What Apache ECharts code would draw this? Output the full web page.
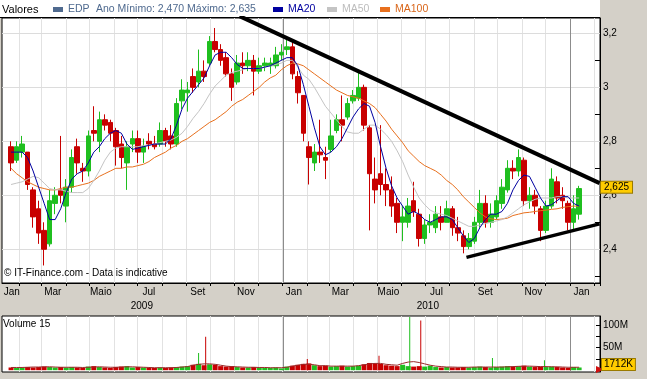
<!DOCTYPE html>
<html>
<head>
<meta charset="utf-8">
<title>EDP</title>
<script src="https://cdn.jsdelivr.net/npm/echarts@6.0.0/dist/echarts.min.js"></script>
<style>
html,body{margin:0;padding:0;background:#D4D0C8;overflow:hidden;}
#chart{width:647px;height:379px;}
</style>
</head>
<body>
<div id="chart"></div>
<script>
// ---------------- data (weekly candles) ----------------
const firstWeekMid = '2009-01-21';   // Wednesday of the first weekly candle
const opens = [2.78,2.73,2.76,2.76,2.62,2.55,2.47,2.42,2.57,2.62,
  2.56,2.63,2.78,2.70,2.69,2.84,2.80,2.88,2.87,2.84,
  2.79,2.72,2.79,2.81,2.76,2.80,2.79,2.79,2.84,2.82,
  2.79,2.95,2.98,3.04,3.02,3.06,3.09,3.17,3.14,3.11,
  3.05,3.02,3.09,3.08,3.10,3.06,3.08,3.08,3.08,3.12,
  3.14,3.15,3.04,2.97,2.78,2.72,2.76,2.74,2.77,2.84,
  2.88,2.89,2.95,2.96,3.00,2.85,2.66,2.68,2.64,2.62,
  2.57,2.50,2.50,2.58,2.53,2.44,2.49,2.48,2.52,2.50,
  2.55,2.48,2.45,2.41,2.43,2.50,2.57,2.50,2.52,2.57,
  2.62,2.70,2.69,2.73,2.58,2.60,2.55,2.47,2.56,2.65,
  2.60,2.57,2.50,2.53];
const closes = [2.72,2.78,2.79,2.64,2.52,2.46,2.40,2.58,2.60,2.60,
  2.63,2.74,2.72,2.69,2.82,2.83,2.88,2.86,2.83,2.78,
  2.74,2.78,2.81,2.76,2.78,2.79,2.78,2.84,2.80,2.79,
  2.94,2.99,2.99,3.00,3.06,3.04,3.17,3.14,3.10,3.05,
  3.00,3.09,3.08,3.10,3.06,3.08,3.09,3.09,3.12,3.13,
  3.15,3.05,2.98,2.83,2.74,2.76,2.75,2.73,2.82,2.88,
  2.86,2.94,2.97,3.00,2.86,2.68,2.62,2.64,2.62,2.56,
  2.50,2.52,2.56,2.54,2.44,2.49,2.50,2.53,2.50,2.55,
  2.48,2.46,2.41,2.44,2.50,2.57,2.50,2.53,2.58,2.63,
  2.70,2.69,2.74,2.58,2.60,2.56,2.47,2.56,2.66,2.59,
  2.58,2.50,2.55,2.625];
const lows = [2.69,2.72,2.74,2.62,2.48,2.42,2.34,2.41,2.53,2.57,
  2.50,2.61,2.68,2.65,2.67,2.80,2.76,2.84,2.80,2.71,
  2.70,2.62,2.76,2.72,2.72,2.77,2.77,2.78,2.78,2.77,
  2.78,2.92,2.91,2.98,3.00,3.02,3.08,3.13,3.08,3.04,
  2.95,3.01,3.05,3.06,2.97,3.05,3.06,3.05,3.07,3.10,
  3.12,3.03,2.94,2.80,2.64,2.69,2.72,2.66,2.76,2.83,
  2.80,2.88,2.94,2.95,2.84,2.47,2.57,2.60,2.56,2.52,
  2.46,2.43,2.48,2.52,2.41,2.42,2.46,2.46,2.47,2.50,
  2.45,2.43,2.385,2.40,2.42,2.48,2.48,2.48,2.51,2.55,
  2.61,2.66,2.67,2.56,2.55,2.53,2.43,2.46,2.55,2.57,
  2.55,2.47,2.47,2.51];
const highs = [2.80,2.80,2.82,2.76,2.63,2.58,2.50,2.62,2.63,2.82,
  2.66,2.77,2.81,2.72,2.84,2.93,2.91,2.90,2.88,2.85,
  2.82,2.80,2.84,2.84,2.81,2.83,2.82,2.87,2.85,2.86,
  2.96,3.03,3.02,3.07,3.14,3.10,3.19,3.22,3.16,3.13,
  3.07,3.12,3.13,3.13,3.12,3.11,3.11,3.11,3.15,3.16,
  3.19,3.17,3.06,2.97,2.80,2.79,2.88,2.78,2.88,2.90,
  2.97,2.96,2.99,3.06,3.01,2.86,2.74,2.86,2.70,2.67,
  2.59,2.56,2.59,2.65,2.55,2.51,2.53,2.56,2.56,2.58,
  2.56,2.52,2.47,2.46,2.52,2.62,2.60,2.57,2.60,2.66,
  2.73,2.73,2.77,2.74,2.63,2.62,2.56,2.58,2.70,2.67,
  2.63,2.58,2.60,2.635];
const ma20 = [2.76,2.76,2.76,2.74,2.69,2.63,2.57,2.51,2.51,2.55,
  2.61,2.66,2.68,2.69,2.72,2.76,2.78,2.81,2.83,2.84,
  2.83,2.79,2.77,2.775,2.78,2.785,2.79,2.79,2.79,2.81,
  2.86,2.92,2.96,2.985,3.01,3.035,3.08,3.12,3.13,3.13,
  3.11,3.085,3.07,3.07,3.07,3.07,3.075,3.08,3.09,3.10,
  3.11,3.11,3.08,3.01,2.93,2.85,2.78,2.75,2.76,2.78,
  2.81,2.85,2.89,2.92,2.94,2.93,2.87,2.78,2.70,2.635,
  2.59,2.56,2.53,2.54,2.53,2.51,2.50,2.51,2.52,2.52,
  2.51,2.48,2.45,2.425,2.44,2.48,2.51,2.53,2.53,2.54,
  2.57,2.62,2.655,2.675,2.67,2.63,2.59,2.56,2.565,2.58,
  2.595,2.595,2.57,2.56];
const ma50 = [2.64,2.645,2.65,2.66,2.67,2.665,2.645,2.625,2.62,2.62,
  2.615,2.61,2.61,2.61,2.625,2.655,2.69,2.73,2.76,2.775,
  2.78,2.78,2.78,2.78,2.785,2.785,2.79,2.795,2.80,2.805,
  2.815,2.83,2.855,2.885,2.91,2.94,2.975,3.005,3.025,3.045,
  3.055,3.06,3.065,3.07,3.07,3.07,3.075,3.08,3.085,3.09,
  3.10,3.10,3.075,3.045,3.03,3.00,2.965,2.93,2.905,2.88,
  2.855,2.835,2.83,2.83,2.845,2.86,2.86,2.845,2.825,2.80,
  2.765,2.725,2.675,2.63,2.59,2.565,2.545,2.535,2.53,2.525,
  2.515,2.505,2.495,2.485,2.485,2.49,2.495,2.50,2.505,2.51,
  2.52,2.535,2.55,2.565,2.575,2.585,2.59,2.59,2.59,2.595,
  2.595,2.59,2.59,2.59];
const ma100 = [2.70,2.68,2.665,2.65,2.64,2.63,2.625,2.62,2.62,2.625,
  2.63,2.63,2.635,2.64,2.645,2.655,2.67,2.68,2.69,2.70,
  2.70,2.705,2.705,2.71,2.715,2.725,2.74,2.75,2.76,2.775,
  2.785,2.80,2.81,2.825,2.84,2.855,2.87,2.88,2.895,2.91,
  2.93,2.945,2.955,2.97,2.985,3.00,3.02,3.035,3.045,3.065,
  3.08,3.09,3.087,3.08,3.065,3.05,3.035,3.02,3.005,2.99,
  2.98,2.97,2.965,2.96,2.95,2.94,2.925,2.90,2.875,2.845,
  2.82,2.795,2.765,2.745,2.725,2.71,2.70,2.69,2.675,2.655,
  2.64,2.62,2.595,2.575,2.555,2.535,2.52,2.513,2.51,2.512,
  2.515,2.525,2.53,2.535,2.537,2.54,2.543,2.545,2.548,2.55,
  2.555,2.558,2.56,2.56];
// volume, millions of shares (typical daily level of each week)
const volumes = [6,5,6,7,6,7,8,7,6,7,
  6,7,6,5,8,9,7,6,5,7,
  8,9,6,7,6,5,5,6,5,6,
  7,8,9,12,14,11,13,12,9,8,
  9,7,6,6,7,6,5,5,6,4,
  8,10,12,14,15,11,9,10,8,9,
  10,8,9,10,13,16,15,14,11,10,
  9,12,9,8,9,8,10,7,6,7,
  6,6,7,6,7,8,7,6,7,8,
  9,8,9,10,8,7,8,7,8,7,
  6,5,7,6];
const volumeMA15 = [6,6,6,6.5,7,7,7.5,7.5,7,6.5,
  6.5,6.5,6.5,6,6.5,7,7.5,7,6.5,6.5,
  7,7.5,7.5,7,6.5,6,5.5,5.5,5.5,5.5,
  6,7,8,11,13,14,14,13,11,9,
  8,7.5,7,6.5,6.5,6,6,5.5,5.5,5.5,
  6.5,9,11,13,13,12,10,10,9,9,
  9,9,9,10,12,14,15,15,13,12,
  11,15,18,19,17,14,11,9,8,7,
  7,6.5,6.5,6.5,7,7,7,7,7,7,
  7.5,8,8.5,9,9,8.5,8,8,7.5,7.5,
  7,6.5,6.5,6.5];
const volSpikeDates  = ['2009-09-16','2009-09-25','2010-02-01','2010-05-03','2010-06-11','2010-06-25','2010-09-24','2010-11-29'];
const volSpikeValues = [38, 74, 25, 32, 118, 110, 27, 22];
const upperTrend = [['2009-11-07', 3.264], ['2011-02-07', 2.645]];
const lowerTrend = [['2010-08-22', 2.370], ['2011-02-07', 2.494]];
const priceTicks  = [2.3,2.4,2.5,2.6,2.7,2.8,2.9,3.0,3.1,3.2];
const priceLabels = [2.4,2.6,2.8,3.0,3.2];
const volTicks  = [25e6,50e6,75e6,100e6];
const volLabels = [50e6,100e6];
const monthNames = ['Jan','Fev','Mar','Abr','Maio','Jun','Jul','Ago','Set','Out','Nov','Dez'];
const monthLabelDates = ['2009-01-22','2009-03-15','2009-05-15','2009-07-15','2009-09-15','2009-11-15',
  '2010-01-15','2010-03-15','2010-05-15','2010-07-15','2010-09-15','2010-11-15','2011-01-15'];
const yearLabelDates = ['2009-07-06','2010-07-04'];
const yearStarts = ['2010-01-01','2011-01-01'];
const lastPrice = 2.625;
const lastVolume = 1712000;
const headerInfo = 'Ano Mínimo: 2,470 Máximo: 2,635';

// ---------------- build ----------------
const FONT = '"Liberation Sans", Arial, sans-serif';
const SLATE = '#4F6A8F', GREEN = '#1FBF1F', RED = '#C80000';
const DAY = 86400000;
const iso = t => new Date(t).toISOString().slice(0, 10);
const days = [];
for (let t = Date.UTC(2009, 0, 10); t <= Date.UTC(2011, 1, 7); t += DAY) days.push(iso(t));
const dayIndex = {};
days.forEach((d, i) => { dayIndex[d] = i; });
const t0 = Date.parse(firstWeekMid + 'T00:00:00Z');
const weekIdx = opens.map((_, i) => dayIndex[iso(t0 + i * 7 * DAY)]);
const isUp = i => closes[i] >= opens[i];

const candleData = opens.map((o, i) => [weekIdx[i], o, closes[i], lows[i], highs[i]]);
const lineData = arr => arr.map((v, i) => [weekIdx[i], v]);
const volData = volumes.map((v, i) => ({ value: [weekIdx[i], v * 1e6], itemStyle: { color: isUp(i) ? GREEN : RED } }));
const spikeData = volSpikeDates.map((d, i) => {
  const k = Math.max(0, Math.min(opens.length - 1, Math.round((dayIndex[d] - weekIdx[0]) / 7)));
  return { value: [dayIndex[d], volSpikeValues[i] * 1e6], itemStyle: { color: isUp(k) ? GREEN : RED } };
});
const trend = arr => arr.map(p => [dayIndex[p[0]], p[1]]);

const labelSet = new Set(monthLabelDates);
const yearSet = new Set(yearLabelDates);
const isMonthStart = (i, v) => v.slice(8) === '01';
const priceFmt = v => String(Math.round(v * 10) / 10).replace('.', ',');
const lastPriceText = lastPrice.toFixed(3).replace('.', ',');

const txt = (extra) => Object.assign({ fontFamily: FONT, fontWeight: 'normal', fontSize: 10, color: '#000' }, extra || {});

const option = {
  animation: false,
  backgroundColor: '#D4D0C8',
  graphic: [
    { type: 'rect', silent: true, shape: { x: 0, y: 0, width: 600, height: 18 }, style: { fill: '#fff' } },
    { type: 'line', silent: true, shape: { x1: 0, y1: 17.5, x2: 600, y2: 17.5 }, style: { stroke: '#000', lineWidth: 1 } }
  ],
  title: [
    { text: 'Valores', left: 2, top: 4, padding: 0, textStyle: txt({ fontSize: 11 }) },
    { text: headerInfo, left: 96, top: 4, padding: 0, textStyle: txt({ fontSize: 10.5, color: SLATE }) },
    { text: '© IT-Finance.com - Data is indicative', left: 4, top: 268, padding: 0, textStyle: txt({ fontSize: 10 }) },
    { text: 'Volume 15', left: 3, top: 319, padding: 0, textStyle: txt({ fontSize: 10 }) }
  ],
  legend: [
    { left: 53, top: 4, padding: 0, itemWidth: 10, itemHeight: 5, selectedMode: false,
      data: [{ name: 'EDP', icon: 'rect', itemStyle: { color: SLATE, borderWidth: 0 }, textStyle: { color: SLATE } }],
      textStyle: txt({ fontSize: 10.5 }) },
    { left: 273, top: 4, padding: 0, itemWidth: 10, itemHeight: 5, selectedMode: false,
      data: [{ name: 'MA20', icon: 'rect', itemStyle: { color: '#0000A0' }, textStyle: { color: '#0000A0' } }],
      textStyle: txt({ fontSize: 10.5 }) },
    { left: 327, top: 4, padding: 0, itemWidth: 10, itemHeight: 5, selectedMode: false,
      data: [{ name: 'MA50', icon: 'rect', itemStyle: { color: '#C4C4C4' }, textStyle: { color: '#BDBDBD' } }],
      textStyle: txt({ fontSize: 10.5 }) },
    { left: 380, top: 4, padding: 0, itemWidth: 10, itemHeight: 5, selectedMode: false,
      data: [{ name: 'MA100', icon: 'rect', itemStyle: { color: '#E8701E' }, textStyle: { color: '#D9661A' } }],
      textStyle: txt({ fontSize: 10.5 }) }
  ],
  grid: [
    { left: 2, top: 18, width: 598, height: 265, show: true, backgroundColor: '#fff', borderColor: '#000', borderWidth: 1 },
    { left: 2, top: 316, width: 598, height: 56, show: true, backgroundColor: '#fff', borderColor: '#000', borderWidth: 1 }
  ],
  xAxis: [
    { type: 'category', gridIndex: 0, data: days, boundaryGap: true,
      axisLine: { show: true, lineStyle: { color: '#000' } },
      axisTick: { show: true, interval: isMonthStart, length: 3, lineStyle: { color: '#000' } },
      axisLabel: { show: true, interval: (i, v) => labelSet.has(v), formatter: v => monthNames[+v.slice(5, 7) - 1],
        margin: 4, fontFamily: FONT, fontSize: 10, color: '#000' },
      splitLine: { show: true, interval: isMonthStart, lineStyle: { color: '#E2E2E2', width: 1 } } },
    { type: 'category', gridIndex: 0, data: days, position: 'bottom', offset: 15,
      axisLine: { show: false }, axisTick: { show: false }, splitLine: { show: false },
      axisLabel: { show: true, interval: (i, v) => yearSet.has(v), formatter: v => v.slice(0, 4),
        margin: 3, fontFamily: FONT, fontSize: 10, color: '#000' } },
    { type: 'category', gridIndex: 1, data: days,
      axisLine: { show: false }, axisTick: { show: false }, axisLabel: { show: false },
      splitLine: { show: true, interval: isMonthStart, lineStyle: { color: '#E2E2E2', width: 1 } } },
    { type: 'category', gridIndex: 1, data: days, show: false }
  ],
  yAxis: [
    { type: 'value', gridIndex: 0, position: 'right', min: 2.275, max: 3.257, scale: true,
      axisLine: { show: true, lineStyle: { color: '#000' } },
      axisTick: { show: true, inside: true, length: 5, customValues: priceTicks, lineStyle: { color: '#000' } },
      axisLabel: { show: true, customValues: priceLabels, formatter: priceFmt, margin: 3,
        fontFamily: FONT, fontSize: 10, color: '#000' },
      splitLine: { show: false } },
    { type: 'value', gridIndex: 1, position: 'right', min: -4e6, max: 120e6,
      axisLine: { show: true, lineStyle: { color: '#000' } },
      axisTick: { show: true, inside: true, length: 4, customValues: volTicks, lineStyle: { color: '#000' } },
      axisLabel: { show: true, customValues: volLabels, formatter: v => Math.round(v / 1e6) + 'M', margin: 3,
        fontFamily: FONT, fontSize: 10, color: '#000' },
      splitLine: { show: false } }
  ],
  series: [
    { name: 'gridlines', type: 'line', xAxisIndex: 0, yAxisIndex: 0, data: [], silent: true,
      markLine: { z: 1, silent: true, symbol: 'none', animation: false, label: { show: false },
        lineStyle: { color: '#DCDCDC', width: 1, type: 'solid' },
        data: priceLabels.map(v => ({ yAxis: v }))
          .concat(yearStarts.map(d => ({ xAxis: dayIndex[d], lineStyle: { color: '#8C8C8C', width: 1, type: 'solid' } }))) } },
    { name: 'EDP', type: 'candlestick', xAxisIndex: 0, yAxisIndex: 0, data: candleData,
      encode: { x: 0, y: [1, 2, 3, 4] }, barWidth: 5,
      itemStyle: { color: GREEN, color0: RED, borderColor: GREEN, borderColor0: RED, borderWidth: 1 },
      markLine: { z: 8, silent: true, symbol: 'none', animation: false,
        lineStyle: { width: 0, color: '#000' },
        label: { show: true, position: 'end', distance: 1, formatter: lastPriceText,
          backgroundColor: '#FFCC00', borderColor: '#9A7A00', borderWidth: 1, padding: [1, 3, 0, 3],
          fontFamily: FONT, fontSize: 10, color: '#000' },
        data: [{ yAxis: lastPrice }] } },
    { name: 'MA100', type: 'line', xAxisIndex: 0, yAxisIndex: 0, data: lineData(ma100), symbol: 'none', z: 3,
      lineStyle: { color: '#E8701E', width: 1 }, itemStyle: { color: '#E8701E' } },
    { name: 'MA50', type: 'line', xAxisIndex: 0, yAxisIndex: 0, data: lineData(ma50), symbol: 'none', z: 3,
      lineStyle: { color: '#C4C4C4', width: 1 }, itemStyle: { color: '#C4C4C4' } },
    { name: 'MA20', type: 'line', xAxisIndex: 0, yAxisIndex: 0, data: lineData(ma20), symbol: 'none', z: 4,
      lineStyle: { color: '#0000A0', width: 1 }, itemStyle: { color: '#0000A0' } },
    { name: 'trendUp', type: 'line', xAxisIndex: 0, yAxisIndex: 0, data: trend(upperTrend), symbol: 'none', z: 10,
      silent: true, lineStyle: { color: '#000', width: 4 } },
    { name: 'trendDown', type: 'line', xAxisIndex: 0, yAxisIndex: 0, data: trend(lowerTrend), symbol: 'none', z: 10,
      silent: true, lineStyle: { color: '#000', width: 3.5 } },
    { name: 'volgrid', type: 'line', xAxisIndex: 2, yAxisIndex: 1, data: [], silent: true,
      markLine: { z: 1, silent: true, symbol: 'none', animation: false, label: { show: false },
        lineStyle: { color: '#8C8C8C', width: 1, type: 'solid' },
        data: yearStarts.map(d => ({ xAxis: dayIndex[d] })) } },
    { name: 'Volume', type: 'bar', xAxisIndex: 2, yAxisIndex: 1, data: volData, barWidth: 5,
      markLine: { z: 8, silent: true, animation: false, symbol: ['none', 'triangle'], symbolSize: [7, 8],
        lineStyle: { width: 0, color: '#D01010' },
        label: { show: true, position: 'end', distance: 2, formatter: Math.round(lastVolume / 1000) + 'K',
          offset: [0, -5], backgroundColor: '#FFCC00', borderColor: '#9A7A00', borderWidth: 1, padding: [1, 2, 0, 2],
          fontFamily: FONT, fontSize: 10, color: '#000' },
        data: [{ yAxis: lastVolume }] } },
    { name: 'VolSpikes', type: 'bar', xAxisIndex: 3, yAxisIndex: 1, data: spikeData, barWidth: 1 },
    { name: 'Volume 15', type: 'line', xAxisIndex: 2, yAxisIndex: 1, data: volumeMA15.map((v, i) => [weekIdx[i], v * 1e6]),
      symbol: 'none', z: 4, silent: true, lineStyle: { color: '#9A2A2A', width: 1 } }
  ]
};

const chart = echarts.init(document.getElementById('chart'));
chart.setOption(option);
</script>
</body>
</html>
